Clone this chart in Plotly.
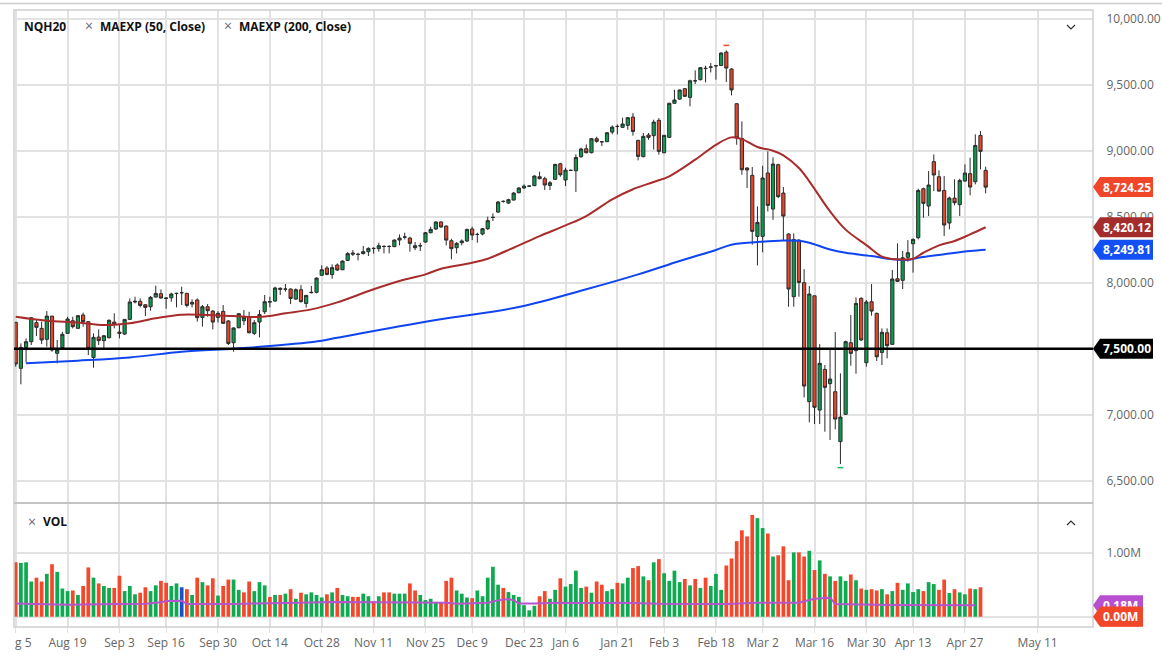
import plotly.graph_objects as go
from plotly.subplots import make_subplots

# candle direction, body top, body bottom, high, low
candle_side = list(
    "rgggrrgrgggrgrrgrggrrggg"
    "rrggrggggrgrgr"
    "rgrrgggrgggggg"
    "grgrggg"
    "grgrgg" "rggggggggggr" "ggggg" "rrr" "ggg" "r" "gggggggggggg" "rr" "gg" "r" "gggg" "r" "g" "r" "gggg"
    "ggrrgrgrggggr" "ggggggg" "rrrrrr" "gg" "rgrrr" "grrgrgrgrgg" "rgrgrrgrgr" "ggggrgrrrg" "rggrgrr"
)
body_top = [
    7700, 7510, 7553, 7735, 7697, 7654, 7747, 7747, 7490, 7609, 7725, 7712, 7750, 7755, 7705, 7586,
    7588, 7598, 7715, 7702, 7626, 7722, 7854, 7859, 7859, 7833, 7889, 7919, 7917, 7884, 7914, 7919,
    7924, 7919, 7851, 7869, 7818, 7818, 7785, 7768, 7783, 7710, 7657, 7765, 7737, 7737, 7697, 7758,
    7856, 7856, 7960, 7957, 7952, 7952, 7947, 7947, 7904, 7927, 8035, 8098, 8111, 8114, 8134, 8164,
    8220, 8225, 8215, 8235, 8260, 8260, 8280, 8275, 8275, 8323, 8338, 8346, 8338, 8280, 8280, 8379,
    8404, 8460, 8460, 8429, 8318, 8298, 8316, 8404, 8407, 8366, 8409, 8470, 8495, 8611, 8616, 8629,
    8679, 8717, 8732, 8732, 8808, 8803, 8788, 8757, 8896, 8901, 8853, 8851, 8949, 9013, 9015, 9091,
    9091, 9068, 9136, 9179, 9184, 9202, 9250, 9255, 9078, 9109, 9119, 9217, 9230, 9116, 9359, 9384,
    9460, 9470, 9530, 9530, 9629, 9624, 9634, 9644, 9740, 9747, 9619, 9356, 9093, 8869, 8813, 8457,
    8793, 8831, 8899, 8894, 8679, 8369, 8328, 8323, 8000, 7914, 7901, 7389, 7343, 7270, 7174, 6982,
    7553, 7545, 7843, 7881, 7854, 7856, 7768, 7624, 7621, 8028, 8030, 8189, 8227, 8328, 8699, 8712,
    8740, 8917, 8803, 8699, 8641, 8641, 8775, 8831, 8826, 9040, 9116, 8851,
]
body_bottom = [
    7384, 7351, 7510, 7553, 7662, 7566, 7571, 7490, 7465, 7508, 7616, 7667, 7654, 7705, 7503, 7434,
    7561, 7561, 7583, 7684, 7616, 7611, 7722, 7854, 7828, 7813, 7818, 7891, 7884, 7881, 7886, 7918,
    7924, 7828, 7838, 7735, 7737, 7788, 7702, 7737, 7692, 7540, 7545, 7659, 7712, 7621, 7616, 7702,
    7780, 7853, 7861, 7949, 7951, 7881, 7876, 7856, 7843, 7924, 7927, 8056, 8063, 8061, 8096, 8098,
    8169, 8217, 8214, 8220, 8235, 8259, 8258, 8274, 8274, 8273, 8323, 8345, 8298, 8265, 8279, 8308,
    8379, 8407, 8422, 8323, 8258, 8265, 8303, 8316, 8361, 8365, 8369, 8409, 8494, 8535, 8615, 8603,
    8626, 8682, 8717, 8731, 8735, 8788, 8740, 8737, 8783, 8818, 8778, 8850, 8848, 8954, 8985, 8985,
    9071, 9067, 9068, 9141, 9183, 9177, 9192, 9146, 8957, 8955, 9101, 9114, 8995, 8985, 9101, 9359,
    9391, 9412, 9404, 9529, 9538, 9622, 9633, 9643, 9646, 9626, 9460, 9096, 8856, 8854, 8389, 8351,
    8351, 8586, 8558, 8652, 8505, 7952, 7894, 8002, 7217, 7099, 7056, 7035, 7207, 7235, 6967, 6796,
    7003, 7465, 7485, 7566, 7394, 7785, 7439, 7472, 7523, 7533, 8010, 8018, 8192, 8295, 8341, 8601,
    8581, 8816, 8694, 8437, 8452, 8606, 8591, 8770, 8725, 8765, 8995, 8724,
]
highs = [
    7700, 7540, 7578, 7735, 7722, 7705, 7785, 7747, 7566, 7629, 7742, 7742, 7755, 7773, 7705, 7616,
    7646, 7604, 7722, 7768, 7687, 7722, 7881, 7894, 7881, 7838, 7899, 7977, 7949, 7884, 7924, 7924,
    7970, 7924, 7874, 7881, 7831, 7838, 7793, 7785, 7831, 7717, 7662, 7768, 7793, 7780, 7717, 7793,
    7907, 7894, 7970, 7965, 7990, 7957, 7957, 7982, 7907, 7975, 8040, 8131, 8126, 8139, 8146, 8169,
    8232, 8247, 8227, 8278, 8268, 8268, 8303, 8283, 8283, 8328, 8366, 8379, 8348, 8308, 8303, 8384,
    8424, 8465, 8465, 8434, 8333, 8308, 8328, 8409, 8424, 8379, 8414, 8500, 8525, 8619, 8624, 8636,
    8687, 8725, 8745, 8737, 8813, 8841, 8803, 8770, 8901, 8909, 8871, 8859, 8972, 9023, 9048, 9096,
    9106, 9073, 9141, 9192, 9199, 9250, 9255, 9285, 9083, 9134, 9134, 9235, 9247, 9121, 9364, 9462,
    9462, 9475, 9538, 9609, 9634, 9644, 9664, 9644, 9747, 9760, 9624, 9361, 9222, 8874, 8876, 8578,
    8886, 8995, 8950, 8902, 8725, 8374, 8374, 8328, 8103, 7975, 7901, 7535, 7376, 7495, 7626, 7313,
    7561, 7755, 7889, 7889, 7869, 7990, 7773, 7654, 7654, 8096, 8298, 8240, 8323, 8336, 8712, 8720,
    8846, 8972, 8851, 8808, 8652, 8783, 8788, 8896, 8947, 9124, 9149, 8879,
]
lows = [
    7364, 7230, 7394, 7528, 7596, 7535, 7515, 7477, 7389, 7503, 7616, 7654, 7654, 7667, 7452, 7356,
    7528, 7503, 7578, 7654, 7578, 7604, 7722, 7843, 7813, 7747, 7788, 7889, 7879, 7803, 7856, 7813,
    7831, 7813, 7813, 7705, 7667, 7742, 7646, 7699, 7692, 7528, 7477, 7654, 7679, 7616, 7604, 7586,
    7763, 7813, 7856, 7907, 7932, 7838, 7869, 7851, 7811, 7919, 7919, 8051, 8056, 8030, 8088, 8096,
    8164, 8202, 8169, 8215, 8202, 8220, 8235, 8222, 8222, 8270, 8283, 8328, 8235, 8247, 8240, 8303,
    8374, 8399, 8417, 8283, 8177, 8222, 8283, 8308, 8323, 8303, 8359, 8399, 8467, 8530, 8606, 8596,
    8624, 8677, 8712, 8727, 8732, 8783, 8702, 8702, 8778, 8803, 8732, 8846, 8687, 8947, 8980, 8980,
    9061, 9035, 9066, 9124, 9124, 9174, 9159, 9114, 8927, 8950, 9083, 9008, 8970, 8980, 9096, 9356,
    9386, 9407, 9336, 9505, 9533, 9518, 9593, 9538, 9644, 9520, 9419, 9045, 8818, 8717, 8288, 8131,
    8230, 8540, 8477, 8641, 8323, 7818, 7818, 7894, 7131, 6942, 6929, 6929, 6871, 6808, 6889, 6626,
    6998, 7371, 7311, 7558, 7364, 7750, 7407, 7376, 7427, 7528, 8008, 7952, 8159, 8076, 8328, 8492,
    8505, 8694, 8689, 8354, 8404, 8586, 8505, 8765, 8662, 8745, 8859, 8677,
]

# volume in millions and bar colour side
volumes = [
    .85, .84, .85, .55, .61, .55, .67, .82, .70, .44, .40, .41, .34, .48, .77, .61,
    .52, .48, .45, .45, .64, .40, .48, .35, .375, .46, .40, .49, .56, .53, .48, .52,
    .46, .43, .34, .61, .54, .49, .60, .33, .48, .58, .58, .42, .38, .55, .40, .54,
    .49, .31, .34, .34, .36, .43, .28, .375, .35, .38, .34, .30, .35, .38, .45, .34,
    .32, .31, .31, .36, .32, .24, .32, .38, .38, .36, .36, .36, .52, .41, .34, .26,
    .28, .23, .23, .56, .61, .41, .36, .30, .29, .41, .32, .61, .78, .50, .45, .385,
    .34, .31, .18, .10, .17, .32, .40, .28, .42, .60, .47, .51, .72, .45, .47, .375,
    .55, .50, .40, .43, .53, .52, .61, .76, .79, .63, .57, .85, .90, .68, .56, .72,
    .54, .59, .49, .59, .45, .61, .48, .67, .42, .80, .91, 1.18, 1.35, 1.255, 1.59, 1.54,
    1.385, 1.30, .94, .96, 1.10, .57, 1.005, 1.005, .94, 1.03, .73, .88, .67, .63, .56, .63,
    .56, .66, .57, .44, .42, .43, .41, .43, .35, .40, .53, .42, .52, .385, .43, .40,
    .54, .51, .42, .58, .37, .43, .38, .35, .44, .43, .46, 0,
]
volume_side = list(
    "rgggrrgrgggrgrrgrggrrggg"
    "rrggrrggb"
    "rgrgrrgrrggrrggg"
    "rgrgrgrggggrgrgg"
    "rrggrgrrgggrrggggrrr"
    "gggrgggggrgggggg"
    "rrggrggggrgrrggr"
    "ggrrgrgrggggrgrgrggg"
    "rrrrrrggrgrrr" "grrgrgrgrgg" "rgrgrrgrgr" "ggggrggrrg" "rggrgrr"
)

ma50_index = [
    0, 6, 12, 17, 22, 27, 32, 37, 42, 47, 52, 57, 62, 69, 74, 79, 82, 88, 91, 96, 101, 106, 110,
    115, 119, 123, 126, 131, 135, 138, 140, 143, 146, 148, 151, 153, 157, 160, 164, 167, 169, 170,
    173, 175, 178, 181, 184, 187,
]
ma50_values = [
    7742, 7712, 7699, 7679, 7692, 7730, 7758, 7755, 7747, 7740, 7768, 7798, 7851, 7950, 8013, 8063,
    8106, 8151, 8182, 8265, 8353, 8434, 8505, 8631, 8708, 8763, 8806, 8932, 9045, 9101, 9088, 9028,
    9000, 8965, 8869, 8768, 8540, 8402, 8285, 8197, 8180, 8177, 8182, 8227, 8283, 8316, 8366, 8420,
]
ma200_index = [
    2, 12, 22, 32, 42, 49, 59, 62, 81, 97, 110, 120, 128, 135, 138, 143, 148, 151, 153, 157, 160,
    165, 169, 172, 174, 179, 184, 187,
]
ma200_values = [
    7389, 7409, 7434, 7477, 7500, 7520, 7561, 7583, 7717, 7816, 7950, 8063, 8164, 8248, 8288, 8308,
    8320, 8318, 8303, 8252, 8227, 8202, 8177, 8172, 8189, 8215, 8240, 8250,
]
vol_ma_index = [
    0, 10, 19, 25, 28, 29, 32, 33, 42, 48, 55, 61, 74, 79, 83, 85, 91, 93, 95, 96, 97, 100, 104,
    111, 117, 124, 130, 137, 143, 149, 151, 154, 157, 158, 169, 185,
]
vol_ma_values = [
    .208, .188, .198, .203, .224, .245, .25, .198, .198, .203, .219, .229, .229, .219, .219, .203,
    .219, .255, .276, .255, .208, .208, .219, .214, .219, .203, .198, .198, .219, .214, .219, .28,
    .297, .198, .182, .177,
]

date_index = [10, 20, 29, 39, 49, 59, 69, 79, 88, 98, 106, 116, 125, 135, 144, 154, 164, 173, 183, 197]
date_labels = ["Aug 19", "Sep 3", "Sep 16", "Sep 30", "Oct 14", "Oct 28", "Nov 11", "Nov 25", "Dec 9", "Dec 23",
               "Jan 6", "Jan 21", "Feb 3", "Feb 18", "Mar 2", "Mar 16", "Mar 30", "Apr 13", "Apr 27", "May 11"]
price_ticks = [6500, 7000, 7500, 8000, 8500, 9000, 9500, 10000]

support_level = 7500
last_price = 8724.25
ma50_last = 8420.12
ma200_last = 8249.81
vol_ma_last = 0.18
vol_last = 0.0
high_flag = 9798
low_flag = 6599

assert len(candle_side) == len(body_top) == len(body_bottom) == len(highs) == len(lows) == len(volumes) == len(volume_side)

RED = "#E9452A"
GREEN = "#0A9B4E"
GRID = "#E2E2E2"
FONT = "Open Sans"

# pixel box of the chart in the 1162x659 window
LEFT, RIGHT, TOP, BOTTOM, SPLIT = 14, 1093, 10, 627, 503


def px_x(px):
    return (px - LEFT) / (RIGHT - LEFT)


def px_y(py):
    return (BOTTOM - py) / (BOTTOM - TOP)


bars = list(range(len(body_top)))
opens = [t if s == "r" else b for t, b, s in zip(body_top, body_bottom, candle_side)]
closes = [b if s == "r" else t for t, b, s in zip(body_top, body_bottom, candle_side)]
bar_colors = [{"r": "#F5482A", "g": "#0EAA50", "b": "#1F4FC8"}[s] for s in volume_side]

fig = make_subplots(rows=2, cols=1, shared_xaxes=True, vertical_spacing=0,
                    row_heights=[px_y(TOP) - px_y(SPLIT), px_y(SPLIT)])

fig.add_trace(go.Candlestick(
    x=bars, open=opens, high=highs, low=lows, close=closes,
    increasing=dict(line=dict(color="#2B2B2B", width=1), fillcolor=GREEN),
    decreasing=dict(line=dict(color="#2B2B2B", width=1), fillcolor=RED),
    whiskerwidth=0, showlegend=False), row=1, col=1)
fig.add_trace(go.Scatter(x=ma200_index, y=ma200_values, mode="lines", line=dict(color="#0F45F0", width=2, shape="spline"),
                         showlegend=False), row=1, col=1)
fig.add_trace(go.Scatter(x=ma50_index, y=ma50_values, mode="lines", line=dict(color="#A82C2C", width=2, shape="spline"),
                         showlegend=False), row=1, col=1)
fig.add_trace(go.Scatter(x=[137], y=[high_flag], mode="markers", marker=dict(symbol="line-ew", size=4, line=dict(color="#F0472A", width=1.5)),
                         showlegend=False), row=1, col=1)
fig.add_trace(go.Scatter(x=[159], y=[low_flag], mode="markers", marker=dict(symbol="line-ew", size=4, line=dict(color="#12B85C", width=1.5)),
                         showlegend=False), row=1, col=1)

fig.add_trace(go.Bar(x=bars, y=volumes, marker=dict(color=bar_colors, line_width=0), width=0.72, showlegend=False), row=2, col=1)
fig.add_trace(go.Scatter(x=vol_ma_index, y=vol_ma_values, mode="lines", line=dict(color="#B654CE", width=2),
                         showlegend=False), row=2, col=1)

x_range = [(LEFT - 15.7) / 5.187, (RIGHT - 15.7) / 5.187]
axis_font = dict(family=FONT, size=12, color="#666666")
fig.update_xaxes(range=x_range, showgrid=True, gridcolor=GRID, gridwidth=1.5, zeroline=False, automargin=False,
                 rangeslider_visible=False, tickvals=[0] + date_index, ticktext=[""] + date_labels,
                 tickfont=axis_font, ticks="outside", ticklen=5, tickcolor=GRID, showline=False)
# the 7,500 and 0.00M axis labels sit under their value tags in the reference
fig.update_yaxes(side="right", range=[7500 - (SPLIT - 348.7) * 7.576, 7500 + (348.7 - TOP) * 7.576], automargin=False,
                 tickvals=price_ticks, ticktext=["" if v == support_level else f"{v:,.2f}" for v in price_ticks], showgrid=True,
                 gridcolor=GRID, gridwidth=1.5, zeroline=False, tickfont=axis_font, ticks="outside", ticklen=10,
                 tickcolor="rgba(0,0,0,0)", row=1, col=1)
fig.update_yaxes(side="right", range=[-(BOTTOM - 616.7) / 64, (616.7 - SPLIT) / 64], tickvals=[0, 1], automargin=False,
                 ticktext=["", "1.00M"], showgrid=True, gridcolor=GRID, gridwidth=1.5, zeroline=False,
                 tickfont=axis_font, ticks="outside", ticklen=10, tickcolor="rgba(0,0,0,0)", row=2, col=1)

shapes = [
    # outer frame and panel separator
    dict(type="line", xref="paper", yref="paper", x0=-1, x1=2, y0=px_y(3.5), y1=px_y(3.5), line=dict(color="#CCCCCC", width=1.5)),
    dict(type="rect", xref="paper", yref="paper", x0=0, x1=1, y0=0, y1=1, line=dict(color="#CFCFCF", width=1.5)),
    dict(type="line", xref="paper", yref="paper", x0=0, x1=1, y0=px_y(SPLIT), y1=px_y(SPLIT), line=dict(color="#C4C4C4", width=2)),
    dict(type="line", xref="x", yref="y", x0=x_range[0], x1=x_range[1], y0=support_level, y1=support_level,
         line=dict(color="#000000", width=2.5)),
    # chevrons
    dict(type="path", xref="paper", yref="paper", line=dict(color="#333333", width=1.2),
         path=f"M{px_x(1067)},{px_y(25)} L{px_x(1071)},{px_y(29)} L{px_x(1075)},{px_y(25)}"),
    dict(type="path", xref="paper", yref="paper", line=dict(color="#333333", width=1.2),
         path=f"M{px_x(1067)},{px_y(525)} L{px_x(1071)},{px_y(521)} L{px_x(1075)},{px_y(525)}"),
]
annotations = []


def add_tag(value, text, color, yref, tag_width, text_bg=None):
    shapes.append(dict(type="path", xref="paper", xsizemode="pixel", xanchor=1, yref=yref, ysizemode="pixel", yanchor=value,
                       path=f"M0,0 L7,-10 L{tag_width},-10 L{tag_width},10 L7,10 Z", fillcolor=color, line_width=0, layer="above"))
    annotations.append(dict(xref="paper", x=px_x(RIGHT + 8), xanchor="left", yref=yref, y=value, yanchor="middle", text=f"<b>{text}</b>",
                            showarrow=False, bgcolor=text_bg, borderpad=1, font=dict(family=FONT, size=12, color="white")))


add_tag(last_price, "8,724.25", "#F0472A", "y", 60)
add_tag(ma50_last, "8,420.12", "#A52C2C", "y", 60)
add_tag(ma200_last, "8,249.81", "#1250F5", "y", 60)
add_tag(support_level, "7,500.00", "#000000", "y", 60)
add_tag(vol_ma_last, "0.18M", "#B84FD0", "y2", 50)
add_tag(vol_last, "0.00M", "#F0472A", "y2", 50, text_bg="#F0472A")


def label(px, py, text, bold=True, color="#111111", size=12):
    annotations.append(dict(xref="paper", yref="paper", x=px_x(px), y=px_y(py), xanchor="left", yanchor="middle", showarrow=False,
                            text=f"<b>{text}</b>" if bold else text, font=dict(family=FONT, size=size, color=color)))


label(22, 26.5, "NQH20")
label(83, 26, "×", bold=False, color="#666677", size=14)
label(98, 26.5, "MAEXP (50, Close)")
label(222, 26, "×", bold=False, color="#666677", size=14)
label(237, 26.5, "MAEXP (200, Close)")
label(26, 521, "×", bold=False, color="#666677", size=14)
label(41, 521.5, "VOL")
label(13, 642, "g 5", bold=False, color="#666666")

fig.update_layout(
    width=1162, height=659, autosize=False,
    margin=dict(l=LEFT, r=1162 - RIGHT, t=TOP, b=659 - BOTTOM, autoexpand=False),
    plot_bgcolor="white", paper_bgcolor="white", bargap=0.3, boxgap=0.12, shapes=shapes, annotations=annotations,
    font=dict(family=FONT), hovermode=False, dragmode=False,
)
fig.write_html("out.html", config={"displayModeBar": False}, post_script="document.body.style.margin='0';")
